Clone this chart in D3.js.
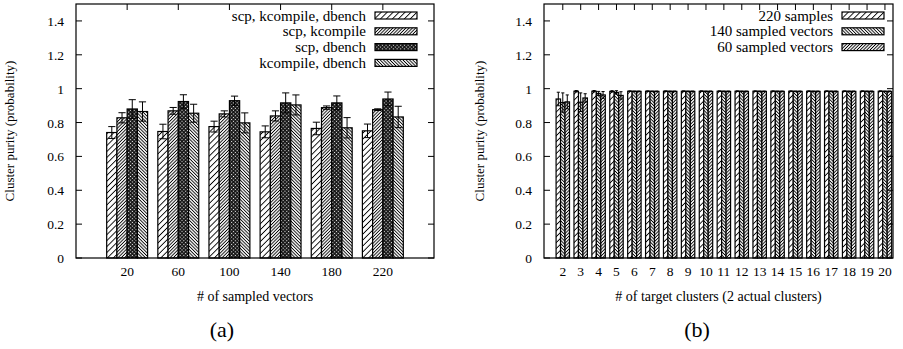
<!DOCTYPE html>
<html>
<head>
<meta charset="utf-8" />
<title>Cluster purity</title>
<style>
body { margin: 0; background: #fff; }
text { font-family: "Liberation Serif", "Times New Roman", serif; fill: #000; }
</style>
</head>
<body>
<div id="chart"></div>
<script src="https://d3js.org/d3.v7.min.js"></script>
<script>
// (a) purity by number of sampled vectors
var leftCats = ['20', '60', '100', '140', '180', '220'];
var leftSeries = ['scp, kcompile, dbench', 'scp, kcompile', 'scp, dbench', 'kcompile, dbench'];
var leftMeans = [
  [0.741, 0.747, 0.776, 0.745, 0.765, 0.751],
  [0.828, 0.869, 0.851, 0.839, 0.888, 0.876],
  [0.880, 0.924, 0.929, 0.916, 0.916, 0.939],
  [0.865, 0.855, 0.798, 0.904, 0.769, 0.833]
];
var leftErrs = [
  [0.035, 0.043, 0.032, 0.035, 0.037, 0.040],
  [0.030, 0.020, 0.018, 0.030, 0.010, 0.005],
  [0.055, 0.040, 0.027, 0.059, 0.041, 0.041],
  [0.057, 0.053, 0.059, 0.059, 0.060, 0.063]
];

// (b) purity by number of target clusters
var rightCats = ['2', '3', '4', '5', '6', '7', '8', '9', '10', '11', '12', '13', '14', '15', '16', '17', '18', '19', '20'];
var rightSeries = ['220 samples', '140 sampled vectors', '60 sampled vectors'];
var rightMeans = [
  [0.939, 0.985, 0.985, 0.984, 0.985, 0.985, 0.985, 0.985, 0.985, 0.985, 0.985, 0.985, 0.985, 0.985, 0.985, 0.985, 0.985, 0.985, 0.985],
  [0.918, 0.920, 0.972, 0.978, 0.984, 0.984, 0.984, 0.984, 0.984, 0.984, 0.984, 0.984, 0.984, 0.984, 0.984, 0.984, 0.984, 0.984, 0.984],
  [0.922, 0.945, 0.963, 0.960, 0.984, 0.984, 0.984, 0.984, 0.984, 0.984, 0.984, 0.984, 0.984, 0.984, 0.984, 0.984, 0.984, 0.984, 0.984]
];
var rightErrs = [
  [0.040, 0.004, 0.004, 0.004, 0.002, 0.002, 0.002, 0.002, 0.002, 0.002, 0.002, 0.002, 0.002, 0.002, 0.002, 0.002, 0.002, 0.002, 0.002],
  [0.057, 0.055, 0.012, 0.010, 0.002, 0.002, 0.002, 0.002, 0.002, 0.002, 0.002, 0.002, 0.002, 0.002, 0.002, 0.002, 0.002, 0.002, 0.002],
  [0.041, 0.025, 0.020, 0.022, 0.002, 0.002, 0.002, 0.002, 0.002, 0.002, 0.002, 0.002, 0.002, 0.002, 0.002, 0.002, 0.002, 0.002, 0.002]
];

var yTicks = [0, 0.2, 0.4, 0.6, 0.8, 1, 1.2, 1.4];

var width = 903, height = 349;
var svg = d3.select('#chart').append('svg')
  .attr('width', width).attr('height', height);

var defs = svg.append('defs');

function linePattern(id, spacing, angle) {
  var p = defs.append('pattern').attr('id', id)
    .attr('patternUnits', 'userSpaceOnUse')
    .attr('width', spacing).attr('height', spacing)
    .attr('patternTransform', 'rotate(' + angle + ')');
  p.append('rect').attr('width', spacing).attr('height', spacing).attr('fill', '#fff');
  p.append('line').attr('x1', spacing / 2).attr('x2', spacing / 2)
    .attr('y1', 0).attr('y2', spacing)
    .attr('stroke', '#000').attr('stroke-width', 0.9);
}
linePattern('sparseFwd', 4.2, 45);
linePattern('denseFwd', 2.3, 45);
linePattern('denseBack', 2.3, -45);

var cp = defs.append('pattern').attr('id', 'checker')
  .attr('patternUnits', 'userSpaceOnUse')
  .attr('width', 2.6).attr('height', 2.6)
  .attr('patternTransform', 'rotate(45)');
cp.append('rect').attr('width', 2.6).attr('height', 2.6).attr('fill', '#111');
cp.append('rect').attr('x', 0.7).attr('y', 0.7).attr('width', 1.1).attr('height', 1.1).attr('fill', '#fff');

function drawPanel(opt) {
  var x = d3.scaleLinear().domain(opt.xdom).range([opt.left, opt.right]);
  var y = d3.scaleLinear().domain([0, 1.5]).range([258, 4]);
  var n = opt.series.length;
  var bw = 1 / (n + 1);
  var g = svg.append('g');

  // bars
  opt.series.forEach(function(s, j) {
    var off = (j - (n - 1) / 2) * bw;
    var data = opt.means[j].map(function(v, i) {
      return { i: i, v: v, e: opt.errs[j][i] };
    });
    g.selectAll('rect.s' + j).data(data).enter().append('rect')
      .attr('class', 's' + j)
      .attr('x', function(d) { return x(d.i + off - bw / 2); })
      .attr('width', x(bw) - x(0))
      .attr('y', function(d) { return y(d.v); })
      .attr('height', function(d) { return y(0) - y(d.v); })
      .attr('fill', 'url(#' + opt.patterns[j] + ')')
      .attr('stroke', '#000').attr('stroke-width', 1.2);

    var capW = (x(bw) - x(0)) * 0.35;
    var eb = g.selectAll('g.e' + j).data(data).enter().append('g')
      .attr('class', 'e' + j)
      .attr('stroke', '#000').attr('stroke-width', 1);
    eb.append('line')
      .attr('x1', function(d) { return x(d.i + off); })
      .attr('x2', function(d) { return x(d.i + off); })
      .attr('y1', function(d) { return y(d.v - d.e); })
      .attr('y2', function(d) { return y(d.v + d.e); });
    [1, -1].forEach(function(sign) {
      eb.append('line')
        .attr('x1', function(d) { return x(d.i + off) - capW; })
        .attr('x2', function(d) { return x(d.i + off) + capW; })
        .attr('y1', function(d) { return y(d.v + sign * d.e); })
        .attr('y2', function(d) { return y(d.v + sign * d.e); });
    });
  });

  // frame
  g.append('rect')
    .attr('x', opt.left).attr('y', 4)
    .attr('width', opt.right - opt.left).attr('height', 254)
    .attr('fill', 'none').attr('stroke', '#000').attr('stroke-width', 1.2);

  // y ticks (left and mirrored right)
  yTicks.forEach(function(t) {
    g.append('line').attr('x1', opt.left).attr('x2', opt.left + 6)
      .attr('y1', y(t)).attr('y2', y(t)).attr('stroke', '#000');
    g.append('line').attr('x1', opt.right).attr('x2', opt.right - 6)
      .attr('y1', y(t)).attr('y2', y(t)).attr('stroke', '#000');
    g.append('text').attr('x', opt.left - 12).attr('y', y(t) + 5)
      .attr('text-anchor', 'end').style('font-size', '13.5px')
      .text(d3.format('~g')(t));
  });

  // x ticks and labels
  opt.cats.forEach(function(c, i) {
    g.append('line').attr('x1', x(i)).attr('x2', x(i))
      .attr('y1', 4).attr('y2', 10).attr('stroke', '#000');
    g.append('text').attr('x', x(i)).attr('y', 276)
      .attr('text-anchor', 'middle').style('font-size', '13.5px')
      .text(c);
  });

  // axis titles
  g.append('text')
    .attr('transform', 'translate(' + opt.ylabX + ',131) rotate(-90)')
    .attr('text-anchor', 'middle').style('font-size', '13px')
    .text('Cluster purity (probability)');
  g.append('text').attr('x', (opt.left + opt.right) / 2).attr('y', 301)
    .attr('text-anchor', 'middle').style('font-size', '14px')
    .text(opt.xlabel);
  g.append('text').attr('x', opt.capX).attr('y', 337)
    .attr('text-anchor', 'middle').style('font-size', '22px')
    .text(opt.caption);

  // legend
  var boxW = 42, boxH = 7;
  var legend = g.selectAll('g.legend').data(opt.series).enter().append('g')
    .attr('class', 'legend')
    .attr('transform', function(d, i) {
      return 'translate(' + (opt.right - opt.keyMargin - boxW) + ',' + (15.5 + i * 15.8) + ')';
    });
  legend.append('rect')
    .attr('x', 0).attr('y', -boxH / 2)
    .attr('width', boxW).attr('height', boxH)
    .attr('fill', function(d, i) { return 'url(#' + opt.patterns[i] + ')'; })
    .attr('stroke', '#000').attr('stroke-width', 1.2);
  legend.append('text')
    .attr('x', -9).attr('y', 5)
    .attr('text-anchor', 'end').style('font-size', '15px')
    .text(function(d) { return d; });
}

drawPanel({
  cats: leftCats, series: leftSeries, means: leftMeans, errs: leftErrs,
  patterns: ['sparseFwd', 'denseFwd', 'checker', 'denseBack'],
  xdom: [-1, 6], left: 76, right: 434, keyMargin: 17, ylabX: 14, capX: 222,
  xlabel: '# of sampled vectors', caption: '(a)'
});

drawPanel({
  cats: rightCats, series: rightSeries, means: rightMeans, errs: rightErrs,
  patterns: ['sparseFwd', 'denseBack', 'denseFwd'],
  xdom: [-1.05, 18.45], left: 544, right: 893, keyMargin: 9, ylabX: 484, capX: 697,
  xlabel: '# of target clusters (2 actual clusters)', caption: '(b)'
});
</script>
</body>
</html>
